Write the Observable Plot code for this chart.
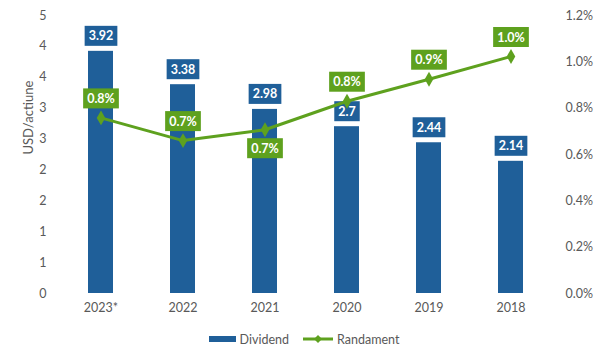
<!DOCTYPE html>
<html><head><meta charset="utf-8">
<script src="https://cdn.jsdelivr.net/npm/d3@7"></script>
<script src="https://cdn.jsdelivr.net/npm/@observablehq/plot@0.6"></script>
<style>
body{margin:0;background:#fff;font-family:Lato, "Open Sans", sans-serif;}
#legend{display:flex;justify-content:center;align-items:center;height:18px;margin-top:5px;font-size:12.5px;color:#595959;padding-left:8px;}
#legend .item{display:flex;align-items:center;margin:0 7px;}
#legend svg{margin-right:3px;}
</style></head><body><div id="chart"></div><div id="legend"></div>
<script>
const years = ["2023*","2022","2021","2020","2019","2018"];
const dividend = [3.92,3.38,2.98,2.7,2.44,2.14];
const dividendLabels = ["3.92","3.38","2.98","2.7","2.44","2.14"];
const yieldPct = [0.758,0.660,0.707,0.830,0.925,1.023];
const yieldLabels = ["0.8%","0.7%","0.7%","0.8%","0.9%","1.0%"];
const leftTicks = [0,0.5,1,1.5,2,2.5,3,3.5,4,4.5];
const rightTicks = [0,0.2,0.4,0.6,0.8,1.0,1.2];
const seriesNames = ["Dividend","Randament"];
const yieldLabelsBelow = ["2021"];
const leftTitle = "USD/actiune";

const blue = "#1f5f99", green = "#5ea11e", gray = "#595959";
const leftMax = 4.5, rightMax = 1.2, k = leftMax / rightMax;

const data = years.map((y, i) => ({
  year: y, div: dividend[i], divLabel: dividendLabels[i],
  yld: yieldPct[i] * k, yldLabel: yieldLabels[i],
  below: yieldLabelsBelow.includes(y)
}));

const chart = Plot.plot({
  width: 600, height: 325,
  marginLeft: 58, marginRight: 47, marginTop: 15, marginBottom: 32,
  style: {fontFamily: "Lato, 'Open Sans', sans-serif", fontSize: "12.5px", color: gray, background: "#fff"},
  x: {domain: years, paddingInner: 0.69, paddingOuter: 0.345, label: null},
  y: {domain: [0, leftMax], label: null},
  marks: [
    Plot.axisX({tickSize: 0, tickPadding: 10, fontSize: 12.5, fill: gray}),
    Plot.axisY({ticks: leftTicks, tickFormat: d => Math.round(d), tickSize: 0, tickPadding: 12, fill: gray, label: null}),
    Plot.axisY({anchor: "right", ticks: rightTicks.map(t => t * k), tickFormat: d => (d / k).toFixed(1) + "%", tickSize: 0, tickPadding: 12, fill: gray, label: null}),
    Plot.text([leftTitle], {frameAnchor: "left", dx: -30, rotate: -90, fill: gray, fontSize: 13}),
    Plot.barY(data, {x: "year", y: "div", fill: blue}),
    Plot.text(data, {x: "year", y: "div", text: "divLabel", dy: -15, fill: "white", fontWeight: "bold", fontSize: 12.5}),
    Plot.line(data, {x: "year", y: "yld", stroke: green, strokeWidth: 3}),
    Plot.dot(data, {x: "year", y: "yld", symbol: "diamond", r: 4.5, fill: green}),
    Plot.text(data.filter(d => !d.below), {x: "year", y: "yld", text: "yldLabel", dy: -19, fill: "white", fontWeight: "bold", fontSize: 12.5}),
    Plot.text(data.filter(d => d.below), {x: "year", y: "yld", text: "yldLabel", dy: 19, fill: "white", fontWeight: "bold", fontSize: 12.5})
  ]
});
document.getElementById("chart").appendChild(chart);

function boxes(g, color) {
  g.querySelectorAll("text").forEach(t => {
    const bb = t.getBBox();
    const r = document.createElementNS("http://www.w3.org/2000/svg", "rect");
    r.setAttribute("x", bb.x - 4);
    r.setAttribute("y", bb.y + bb.height / 2 - 10);
    r.setAttribute("width", bb.width + 8);
    r.setAttribute("height", 20);
    r.setAttribute("fill", color);
    if (t.getAttribute("transform")) r.setAttribute("transform", t.getAttribute("transform"));
    g.insertBefore(r, t);
  });
}
const textGroups = chart.querySelectorAll('g[aria-label="text"]');
// order: title, bar labels, yield labels above, yield labels below
boxes(textGroups[1], blue);
boxes(textGroups[2], green);
boxes(textGroups[3], green);

const legend = document.getElementById("legend");
seriesNames.forEach((name, i) => {
  const item = document.createElement("div");
  item.className = "item";
  const sw = i === 0
    ? `<svg width="28" height="8"><rect x="0" y="1" width="27" height="6" fill="${blue}"/></svg>`
    : `<svg width="31" height="10"><line x1="0" x2="30" y1="5" y2="5" stroke="${green}" stroke-width="3"/><path d="M15,1 L19,5 L15,9 L11,5Z" fill="${green}"/></svg>`;
  item.innerHTML = sw + `<span>${name}</span>`;
  legend.appendChild(item);
});
</script></body></html>
